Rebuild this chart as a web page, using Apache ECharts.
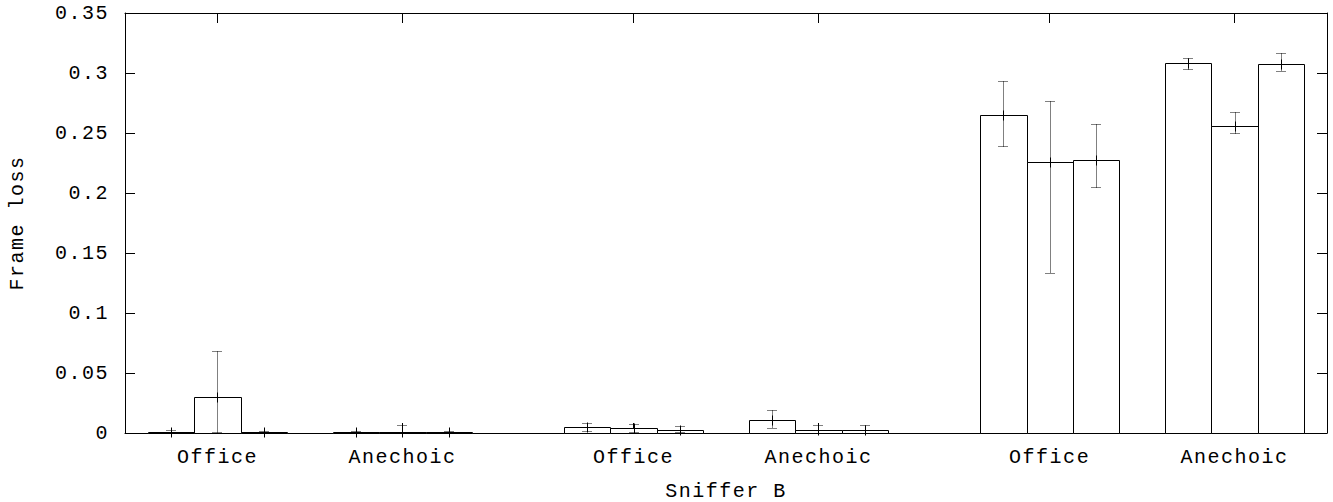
<!DOCTYPE html>
<html>
<head>
<meta charset="utf-8">
<title>Frame loss – Sniffer B</title>
<script src="https://cdn.jsdelivr.net/npm/echarts@6.0.0/dist/echarts.min.js"></script>
<style>
  html, body { margin: 0; padding: 0; background: #fff; }
  #chart { width: 1333px; height: 502px; }
  /* wide, typewriter-like spacing for every label */
  #chart text { letter-spacing: 1.5px; }
</style>
</head>
<body>
<div id="chart"></div>
<script>
// Cluster labels along the x axis, and which histogram block each cluster sits in
const clusterLabels = ['Office', 'Anechoic', 'Office', 'Anechoic', 'Office', 'Anechoic'];
const clusterBlock  = [0, 0, 1, 1, 2, 2];

// Y axis ticks
const yTicks = [0, 0.05, 0.1, 0.15, 0.2, 0.25, 0.3, 0.35];

// First bar of every cluster: mean, lower and upper error limits
const mean1 = [0.0010, 0.0008, 0.0050, 0.0106, 0.2650, 0.3082];
const low1  = [0.0002, 0.0003, 0.0018, 0.0044, 0.2395, 0.3033];
const high1 = [0.0025, 0.0015, 0.0085, 0.0190, 0.2935, 0.3122];

// Second bar
const mean2 = [0.0300, 0.0010, 0.0040, 0.0025, 0.2255, 0.2558];
const low2  = [0.0008, 0.0000, 0.0008, 0.0000, 0.1330, 0.2504];
const high2 = [0.0684, 0.0065, 0.0078, 0.0068, 0.2765, 0.2676];

// Third bar
const mean3 = [0.0010, 0.0008, 0.0025, 0.0025, 0.2272, 0.3071];
const low3  = [0.0000, 0.0003, 0.0005, 0.0000, 0.2048, 0.3013];
const high3 = [0.0020, 0.0015, 0.0058, 0.0068, 0.2578, 0.3168];

const BARS = 3;
// each cluster takes BARS slots plus one empty slot; each new block adds one more
const clusterCenter = clusterLabels.map((_, i) => i * (BARS + 1) + clusterBlock[i]);
const xMin = clusterCenter[0] - 2;
const xMax = clusterCenter[clusterCenter.length - 1] + 2;

const FONT = '"Liberation Mono", "DejaVu Sans Mono", monospace';
const FONT_SIZE = 20;

function seriesData(k, mean, low, high) {
  return mean.map((m, i) => [clusterCenter[i] + (k - 1), m, low[i], high[i]]);
}

const crisp = v => Math.round(v) + 0.5;

function renderBar(params, api) {
  const x = api.value(0), m = api.value(1), lo = api.value(2), hi = api.value(3);
  const a = api.coord([x - 0.5, 0]);
  const b = api.coord([x + 0.5, m]);
  const c = api.coord([x, m]);
  const t = api.coord([x, hi]);
  const d = api.coord([x, lo]);
  const cx = crisp(c[0]);
  const left = Math.round(a[0]), right = Math.round(b[0]);
  const top = Math.round(b[1]), base = Math.round(a[1]);
  const dotted = { stroke: '#000', lineWidth: 1, lineDash: [1, 1], fill: null };
  const solid = { stroke: '#000', lineWidth: 1, fill: null };
  const cap = 5, plus = 5;
  return {
    type: 'group',
    children: [
      { type: 'rect',
        shape: { x: left + 0.5, y: top + 0.5, width: right - left, height: base - top },
        style: { fill: '#fff', stroke: '#000', lineWidth: 1 } },
      { type: 'line', shape: { x1: cx, y1: crisp(t[1]), x2: cx, y2: crisp(d[1]) }, style: dotted },
      { type: 'line', shape: { x1: cx - cap, y1: crisp(t[1]), x2: cx + cap, y2: crisp(t[1]) }, style: dotted },
      { type: 'line', shape: { x1: cx - cap, y1: crisp(d[1]), x2: cx + cap, y2: crisp(d[1]) }, style: dotted },
      { type: 'line', shape: { x1: cx, y1: crisp(c[1]) - plus, x2: cx, y2: crisp(c[1]) + plus }, style: solid },
      { type: 'line', shape: { x1: cx - plus, y1: crisp(c[1]), x2: cx + plus, y2: crisp(c[1]) }, style: solid }
    ]
  };
}

const axisLine = { show: true, onZero: false, lineStyle: { color: '#000', width: 1 } };
const textStyle = { color: '#000', fontFamily: FONT, fontSize: FONT_SIZE };

const option = {
  animation: false,
  backgroundColor: '#fff',
  grid: { left: 125, right: 6, top: 13, bottom: 69, containLabel: false, outerBoundsMode: 'none' },
  xAxis: [
    {
      type: 'value', min: xMin, max: xMax, position: 'bottom',
      axisLine,
      splitLine: { show: false },
      axisTick: { show: true, inside: true, length: 10, customValues: clusterCenter,
                  lineStyle: { color: '#000' } },
      axisLabel: Object.assign({ show: true, customValues: clusterCenter, margin: 14,
                   formatter: v => clusterLabels[clusterCenter.indexOf(v)] }, textStyle),
      name: 'Sniffer B', nameLocation: 'middle', nameGap: 48,
      nameTextStyle: textStyle
    },
    {
      type: 'value', min: xMin, max: xMax, position: 'top',
      axisLine,
      splitLine: { show: false },
      axisTick: { show: true, inside: true, length: 10, customValues: clusterCenter,
                  lineStyle: { color: '#000' } },
      axisLabel: { show: false }
    }
  ],
  yAxis: [
    {
      type: 'value', min: yTicks[0], max: yTicks[yTicks.length - 1],
      interval: yTicks[1] - yTicks[0], position: 'left',
      axisLine,
      splitLine: { show: false },
      axisTick: { show: true, inside: true, length: 10, lineStyle: { color: '#000' } },
      axisLabel: Object.assign({ show: true, margin: 16,
                   formatter: v => String(+v.toFixed(2)) }, textStyle),
      name: 'Frame loss', nameLocation: 'middle', nameGap: 98, nameRotate: 90,
      nameTextStyle: textStyle
    },
    {
      type: 'value', min: yTicks[0], max: yTicks[yTicks.length - 1],
      interval: yTicks[1] - yTicks[0], position: 'right',
      axisLine,
      splitLine: { show: false },
      axisTick: { show: true, inside: true, length: 10, lineStyle: { color: '#000' } },
      axisLabel: { show: false }
    }
  ],
  series: [
    { type: 'custom', name: 'bar 1', renderItem: renderBar, clip: false,
      data: seriesData(0, mean1, low1, high1) },
    { type: 'custom', name: 'bar 2', renderItem: renderBar, clip: false,
      data: seriesData(1, mean2, low2, high2) },
    { type: 'custom', name: 'bar 3', renderItem: renderBar, clip: false,
      data: seriesData(2, mean3, low3, high3) }
  ]
};

const chart = echarts.init(document.getElementById('chart'), null, { renderer: 'svg' });
chart.setOption(option);
</script>
</body>
</html>
